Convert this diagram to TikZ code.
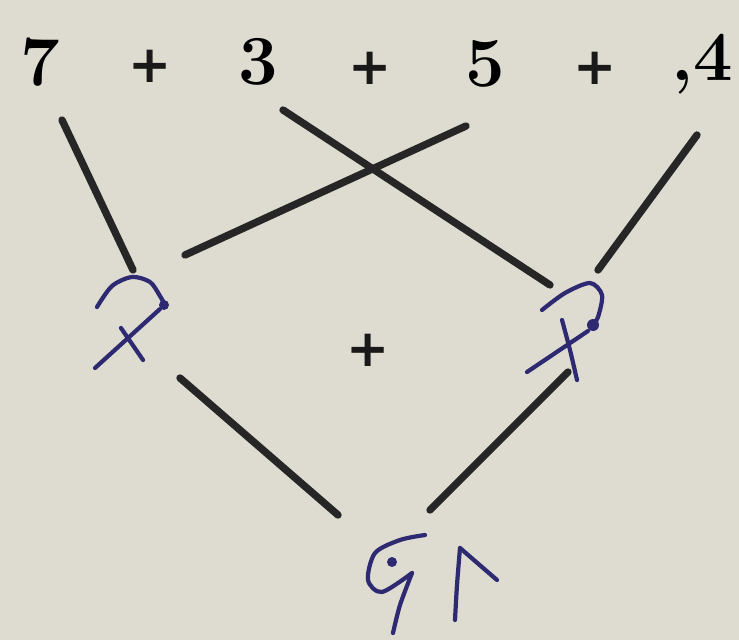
\documentclass[tikz,border=0pt]{standalone}
\usepackage{tikz}
\usepackage{fontspec}
\newfontfamily\plusfont{DejaVu Sans}
\definecolor{Paper}{HTML}{DEDCD1}
\definecolor{Ink}{HTML}{2E2A72}

\begin{document}
\begin{tikzpicture}[x=0.03cm, y=-0.03cm,
                num/.style={font=\fontsize{60}{62}\selectfont\bfseries,
                            inner sep=0pt},
                plus/.style={font=\plusfont\fontsize{44}{46}\selectfont\bfseries,
                             text=black!90, inner sep=0pt},
                link/.style={draw=black!85, line width=6.3pt, line cap=round},
                pen/.style={draw=Ink, line width=3.6pt, line cap=round,
                            line join=round}]
                \fill[Paper] (0,0) rectangle (739,640);

                % printed sum
                \node[num]  (n7) at (40,62)  {7};
                \node[plus] (p1) at (150,66) {+};
                \node[num]  (n3) at (258,62) {3};
                \node[plus] (p2) at (370,68) {+};
                \node[num]  (n5) at (485,64) {5};
                \node[plus] (p3) at (595,68) {+};
                \node[num]  (n4) at (702,64) {,4};
                \node[plus] (pm) at (368,350) {+};

                % line ends
                \coordinate (a7) at (62,120);   \coordinate (b7) at (133,270);
                \coordinate (a3) at (283,110);  \coordinate (b3) at (550,285);
                \coordinate (a5) at (466,126);  \coordinate (b5) at (185,255);
                \coordinate (a4) at (697,135);  \coordinate (b4) at (598,270);
                \coordinate (sl) at (180,378);  \coordinate (sr) at (568,372);
                \coordinate (tl) at (338,515);  \coordinate (tr) at (430,510);

                \draw[link] (a7) -- (b7);
                \draw[link] (a3) -- (b3);
                \draw[link] (a5) -- (b5);
                \draw[link] (a4) -- (b4);
                \draw[link] (sl) -- (tl);
                \draw[link] (sr) -- (tr);

                % handwritten answers
                \draw[pen] plot[smooth] coordinates {(97,307) (112,286) (132,277) (150,282) (160,296) (165,305)};
                \fill[Ink] (164,305) circle (5);
                \draw[pen] (160,309) -- (95,368);
                \draw[pen] (121,328) -- (143,360);

                \draw[pen] plot[smooth] coordinates {(542,310) (565,293) (590,283) (602,295) (598,317) (592,326)};
                \fill[Ink] (593,325) circle (6);
                \draw[pen] (588,331) -- (527,372);
                \draw[pen] plot[smooth] coordinates {(562,320) (570,350) (577,380)};

                \draw[pen] plot[smooth] coordinates {(425,535) (400,540) (375,553) (368,580) (382,592) (412,573)};
                \draw[pen] plot[smooth] coordinates {(412,573) (400,605) (393,633)};
                \fill[Ink] (392,562) circle (5);
                \draw[pen] plot[smooth] coordinates {(455,620) (457,585) (460,548)};
                \draw[pen] (460,548) -- (497,580);
            \end{tikzpicture}
\end{document}
